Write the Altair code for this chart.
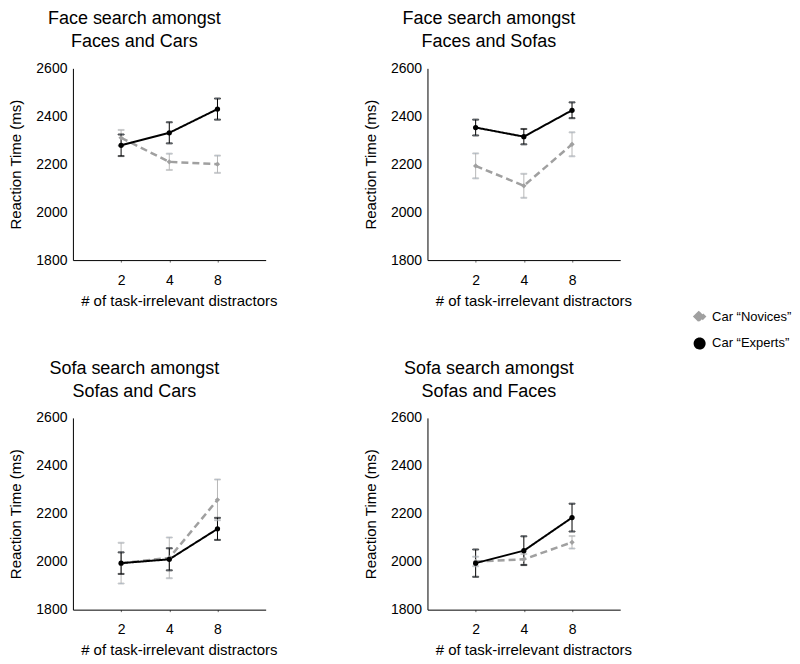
import altair as alt
import pandas as pd

# ---- data ----
panel_titles = [
    ["Face search amongst", "Faces and Cars"],
    ["Face search amongst", "Faces and Sofas"],
    ["Sofa search amongst", "Sofas and Cars"],
    ["Sofa search amongst", "Sofas and Faces"],
]
distractor_labels = ["2", "4", "8"]
groups = ["Car \u201cNovices\u201d", "Car \u201cExperts\u201d"]

# reaction times (ms) per panel: novices, experts
novice_rt = [
    [2310, 2210, 2200],
    [2193, 2110, 2283],
    [1994, 2016, 2258],
    [2001, 2010, 2081],
]
novice_err = [
    [33, 34, 36],
    [52, 50, 50],
    [85, 85, 85],
    [20, 22, 26],
]
expert_rt = [
    [2279, 2331, 2430],
    [2353, 2315, 2425],
    [1994, 2010, 2137],
    [1994, 2046, 2184],
]
expert_err = [
    [45, 44, 44],
    [33, 32, 33],
    [45, 46, 46],
    [57, 60, 58],
]

rows = []
for p in range(4):
    for i, lab in enumerate(distractor_labels):
        rows.append(dict(panel=p, group=groups[0], pos=i + 1, label=lab,
                         rt=novice_rt[p][i], lo=novice_rt[p][i] - novice_err[p][i],
                         hi=novice_rt[p][i] + novice_err[p][i]))
        rows.append(dict(panel=p, group=groups[1], pos=i + 1, label=lab,
                         rt=expert_rt[p][i], lo=expert_rt[p][i] - expert_err[p][i],
                         hi=expert_rt[p][i] + expert_err[p][i]))
df = pd.DataFrame(rows)

FONT = "Liberation Sans"
color_scale = alt.Scale(domain=groups, range=["#a0a0a0", "#000000"])
err_scale = alt.Scale(domain=groups, range=["#b8b8b8", "#000000"])
shape_scale = alt.Scale(domain=groups, range=["diamond", "circle"])
dash_scale = alt.Scale(domain=groups, range=[[7, 4], [1, 0]])
width_scale = alt.Scale(domain=groups, range=[2.5, 2])

legend = alt.Legend(title=None, orient="none", legendX=621, legendY=242,
                    labelFont=FONT, labelFontSize=13, labelColor="#000",
                    symbolSize=100, rowPadding=7, symbolStrokeWidth=0,
                    symbolOpacity=1, labelOffset=6)

label_expr = "datum.value == 1 ? '2' : datum.value == 2 ? '4' : '8'"
x_enc = alt.X("pos:Q", scale=alt.Scale(domain=[0, 4], nice=False),
              axis=alt.Axis(values=[1, 2, 3], labelExpr=label_expr,
                            title="# of task-irrelevant distractors", grid=False,
                            tickSize=2, tickColor="#666", labelPadding=11,
                            titlePadding=6, titleX=106, titleAlign="center"))
y_axis = alt.Axis(values=[1800, 2000, 2200, 2400, 2600], title="Reaction Time (ms)",
                  format="d", grid=False, tickSize=0, labelPadding=6, titlePadding=12)
y_scale = alt.Scale(domain=[1800, 2600], nice=False)


def panel(p):
    base = alt.Chart(df[df.panel == p])
    y_enc = alt.Y("rt:Q", scale=y_scale, axis=y_axis)
    color = alt.Color("group:N", scale=color_scale, legend=legend, sort=groups)
    ecolor = alt.Stroke("group:N", scale=err_scale, legend=None)
    err = base.mark_rule(strokeWidth=1).encode(
        x=x_enc, y=alt.Y("lo:Q", scale=y_scale, axis=y_axis),
        y2="hi:Q", stroke=ecolor)
    cap_lo = base.mark_tick(size=6, thickness=1, orient="horizontal").encode(
        x=x_enc, y=alt.Y("lo:Q"), stroke=ecolor)
    cap_hi = base.mark_tick(size=6, thickness=1, orient="horizontal").encode(
        x=x_enc, y=alt.Y("hi:Q"), stroke=ecolor)
    line = base.mark_line().encode(
        x=x_enc, y=y_enc, color=color,
        strokeDash=alt.StrokeDash("group:N", scale=dash_scale, legend=None),
        strokeWidth=alt.StrokeWidth("group:N", scale=width_scale, legend=None))
    pts = base.mark_point(filled=True, size=28, opacity=1).encode(
        x=x_enc, y=y_enc, color=color,
        shape=alt.Shape("group:N", scale=shape_scale, legend=legend, sort=groups))
    return alt.layer(err, cap_lo, cap_hi, line, pts).resolve_scale(stroke="independent").properties(
        width=193, height=192,
        title=alt.TitleParams(panel_titles[p], fontSize=18, font=FONT, fontWeight="normal",
                              anchor="middle", frame="group", dx=-35, offset=10,
                              lineHeight=23, color="#000"))


chart = alt.vconcat(
    alt.hconcat(panel(0), panel(1), spacing=85),
    alt.hconcat(panel(2), panel(3), spacing=85),
    spacing=52,
).properties(padding={"left": 0, "top": 2, "right": 0, "bottom": 0}).configure_view(
    stroke=None).configure_axis(
    domainColor="#000", tickColor="#000", labelFont=FONT, titleFont=FONT,
    labelFontSize=14, titleFontSize=15, labelColor="#000", titleColor="#000",
    titleFontWeight="normal",
)

chart.save("out.html", embed_options={"renderer": "svg", "actions": False})
